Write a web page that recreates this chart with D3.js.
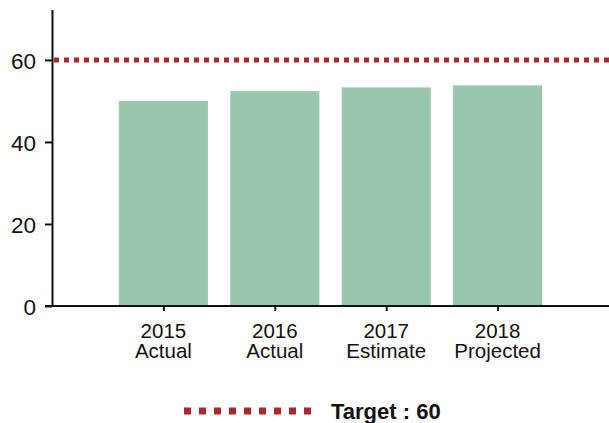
<!DOCTYPE html>
<html>
<head>
<meta charset="utf-8">
<script src="https://cdn.jsdelivr.net/npm/d3@7"></script>
<style>
  body { margin: 0; background: #fff; }
  svg text { font-family: Arial, "Liberation Sans", sans-serif; fill: #111; }
</style>
</head>
<body>
<svg></svg>
<script>
var width = 609;
var height = 423;

var years = ["2015", "2016", "2017", "2018"];
var kinds = ["Actual", "Actual", "Estimate", "Projected"];
var values = [50, 52.4, 53.3, 53.8];
var yTicks = [0, 20, 40, 60];
var target = 60;

var margin = { left: 52, top: 9.5, right: 0, bottom: 306 };

var svg = d3.select("svg")
  .attr("width", width)
  .attr("height", height);

var x = d3.scalePoint()
  .domain(years)
  .range([margin.left, width - margin.right])
  .padding(1);

var y = d3.scaleLinear()
  .domain([0, 72.3])
  .range([margin.bottom, margin.top]);

var barWidth = x.step() * 0.8;

// bars
svg.selectAll("rect.bar")
  .data(values)
  .enter()
  .append("rect")
  .attr("class", "bar")
  .attr("x", (d, i) => x(years[i]) - barWidth / 2)
  .attr("y", d => y(d))
  .attr("width", barWidth)
  .attr("height", d => y(0) - y(d))
  .attr("fill", "#9bc6ae");

// target line
svg.append("line")
  .attr("x1", margin.left + 2)
  .attr("x2", width)
  .attr("y1", y(target))
  .attr("y2", y(target))
  .attr("stroke", "#a52a2a")
  .attr("stroke-width", 5)
  .attr("stroke-dasharray", "5,5");

// y axis
var yAxis = svg.append("g")
  .attr("transform", "translate(" + margin.left + ",0)")
  .call(d3.axisLeft(y).tickValues(yTicks).tickSize(7).tickSizeOuter(0).tickPadding(9));
yAxis.select(".domain").attr("stroke", "#111").attr("stroke-width", 2);
yAxis.selectAll(".tick line").attr("stroke", "#111").attr("stroke-width", 2);
yAxis.selectAll(".tick text").attr("font-size", 22.5).attr("dy", "0.36em").attr("fill", "#111");

// x axis
var xAxis = svg.append("g")
  .attr("transform", "translate(0," + margin.bottom + ")")
  .call(d3.axisBottom(x).tickSize(5).tickSizeOuter(0).tickFormat(""));
xAxis.select(".domain").attr("stroke", "#111").attr("stroke-width", 2)
  .attr("d", "M" + (margin.left - 7) + ",0H" + width);
xAxis.selectAll(".tick line").attr("stroke", "#111").attr("stroke-width", 2);

// two-line category labels
var labels = svg.append("g");
labels.selectAll("text.year")
  .data(years)
  .enter()
  .append("text")
  .attr("class", "year")
  .attr("text-anchor", "middle")
  .attr("font-size", 20.5)
  .attr("x", d => x(d))
  .attr("y", 338)
  .text(d => d);
labels.selectAll("text.kind")
  .data(kinds)
  .enter()
  .append("text")
  .attr("class", "kind")
  .attr("text-anchor", "middle")
  .attr("font-size", 20.5)
  .attr("x", (d, i) => x(years[i]))
  .attr("y", 357.5)
  .text(d => d);

// legend
var legend = svg.append("g");
legend.append("line")
  .attr("x1", 184)
  .attr("x2", 311)
  .attr("y1", 411)
  .attr("y2", 411)
  .attr("stroke", "#a52a2a")
  .attr("stroke-width", 7)
  .attr("stroke-dasharray", "7,8");
legend.append("text")
  .attr("x", 331)
  .attr("y", 418.5)
  .attr("font-size", 22)
  .attr("font-weight", "bold")
  .text("Target : " + target);
</script>
</body>
</html>
